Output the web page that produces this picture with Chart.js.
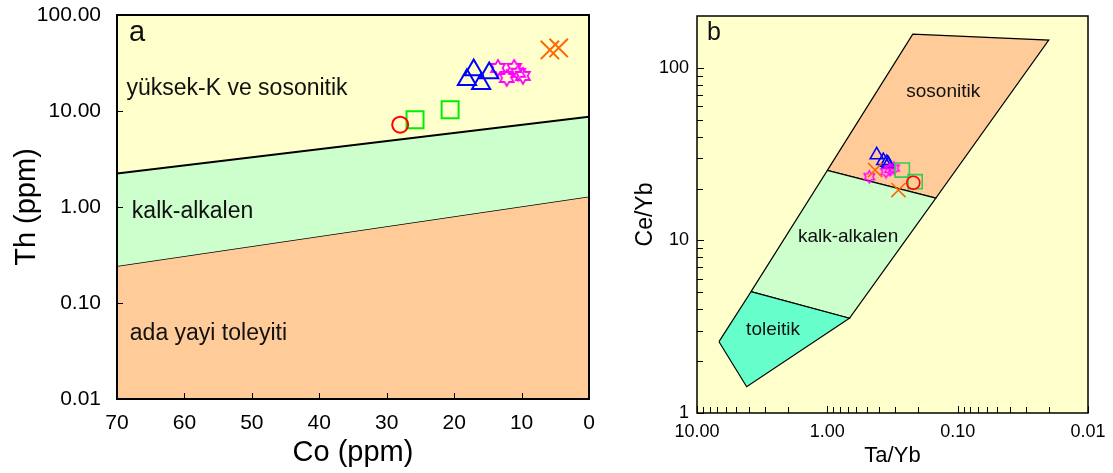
<!DOCTYPE html>
<html>
<head>
<meta charset="utf-8">
<script src="https://cdn.jsdelivr.net/npm/chart.js@4.4.1/dist/chart.umd.min.js"></script>
<style>
  html, body { margin: 0; padding: 0; background: #fff; }
  body { width: 1113px; height: 473px; position: relative; overflow: hidden; }
  .panel { position: absolute; top: 0; height: 473px; }
  #boxA { left: 0; width: 612px; }
  #boxB { left: 620px; width: 493px; }
</style>
</head>
<body>
<div class="panel" id="boxA"><canvas id="chartA"></canvas></div>
<div class="panel" id="boxB"><canvas id="chartB"></canvas></div>
<script>
// --- panel a : Th vs Co ---
const coTicksA = [70, 60, 50, 40, 30, 20, 10, 0];
const thTicksA = [0.01, 0.1, 1, 10, 100];

// field boundaries (Co, Th at both ends)
const lineCoA = [70, 0];
const upperThA = [2.23, 8.7];
const lowerThA = [0.243, 1.29];

const circleCoA = [28.0];
const circleThA = [7.2];
const squareCoA = [25.8, 20.6];
const squareThA = [8.1, 10.3];
const triCoA = [17.1, 18.1, 14.8, 16.0];
const triThA = [26.8, 21.1, 24.9, 19.2];
const starCoA = [13.5, 12.2, 11.1, 10.5, 9.8];
const starThA = [28.1, 22.1, 28.1, 25.0, 23.2];
const crossCoA = [5.8, 4.5];
const crossThA = [43.3, 45.4];

const fieldNamesA = ['yüksek-K ve sosonitik', 'kalk-alkalen', 'ada yayi toleyiti'];
const fieldCoA = [68.6, 67.8, 68.1];
const fieldThA = [17.0, 0.90, 0.0485];

// --- panel b : Ce/Yb vs Ta/Yb ---
const taMajorB = [10, 1, 0.1, 0.01];
const ceMajorB = [1, 10, 100];

const shoTaB = [1.0, 0.221, 0.02, 0.147, 1.0];
const shoCeB = [25.5, 157, 145, 17.6, 25.5];
const calcTaB = [3.85, 1.0, 0.147, 0.677, 3.85];
const calcCeB = [5.05, 25.5, 17.6, 3.54, 5.05];
const tholTaB = [6.78, 3.85, 0.677, 4.16, 6.78];
const tholCeB = [2.59, 5.05, 3.54, 1.42, 2.59];

const triTaB = [0.418, 0.372, 0.350, 0.340];
const triCeB = [31.3, 29.0, 28.3, 27.7];
const starTaB = [0.476, 0.355, 0.331, 0.308];
const starCeB = [23.4, 25.0, 25.8, 26.3];
const crossTaB = [0.430, 0.285];
const crossCeB = [25.6, 19.6];
const squareTaB = [0.266, 0.212];
const squareCeB = [25.6, 21.9];
const circleTaB = [0.219];
const circleCeB = [21.6];

const fieldNamesB = ['sosonitik', 'kalk-alkalen', 'toleitik'];
const fieldTaB = [0.129, 0.693, 2.61];
const fieldCeB = [72.9, 10.5, 3.03];

const FONT = '"Liberation Sans", Arial, sans-serif';

function pts(xs, ys) {
  return xs.map((x, i) => ({ x: x, y: ys[i] }));
}

function isPow10(v) {
  const l = Math.log10(v);
  return Math.abs(l - Math.round(l)) < 1e-6;
}

// log ticks 1..9 per decade, used for the minor tick marks
function logTicks(min, max) {
  const out = [];
  for (let e = Math.floor(Math.log10(min)); e <= Math.ceil(Math.log10(max)); e++) {
    for (let m = 1; m < 10; m++) {
      const v = parseFloat((m * Math.pow(10, e)).toPrecision(6));
      if (v >= min - 1e-12 && v <= max + 1e-12) out.push(v);
    }
  }
  return out;
}

function starCanvas(r, color, lw) {
  const s = Math.ceil(2 * r + 2 * lw + 2);
  const c = document.createElement('canvas');
  c.width = s; c.height = s;
  const g = c.getContext('2d');
  g.strokeStyle = color;
  g.lineWidth = lw;
  g.lineJoin = 'miter';
  g.beginPath();
  for (let i = 0; i < 12; i++) {
    const rr = i % 2 ? r / Math.sqrt(3) : r;
    const ang = -Math.PI / 2 + i * Math.PI / 6;
    const px = s / 2 + rr * Math.cos(ang);
    const py = s / 2 + rr * Math.sin(ang);
    if (i) g.lineTo(px, py); else g.moveTo(px, py);
  }
  g.closePath();
  g.stroke();
  return c;
}

function markers(xs, ys, style, color, radius, width) {
  return {
    data: pts(xs, ys),
    showLine: false,
    pointStyle: style,
    pointRadius: radius,
    pointHoverRadius: radius,
    pointBorderColor: color,
    pointBackgroundColor: 'rgba(0,0,0,0)',
    pointBorderWidth: width,
    clip: false,
    order: 0
  };
}

// fixed axis box size, no extra label padding pushed into the layout
function fixBox(size) {
  return s => {
    if (s.isHorizontal()) s.height = size; else s.width = size;
    s.paddingTop = 0; s.paddingBottom = 0; s.paddingLeft = 0; s.paddingRight = 0;
  };
}

/* --- plugins --- */
const plotBackground = {
  id: 'plotBackground',
  beforeDraw(chart, args, opts) {
    const { ctx, chartArea: a } = chart;
    ctx.save();
    ctx.fillStyle = opts.color;
    ctx.fillRect(a.left, a.top, a.right - a.left, a.bottom - a.top);
    ctx.restore();
  }
};

const frameTicks = {
  id: 'frameTicks',
  afterDatasetsDraw(chart, args, opts) {
    const { ctx, chartArea: a } = chart;
    ctx.save();
    ctx.strokeStyle = '#000';
    ctx.lineWidth = 1;
    Object.values(chart.scales).forEach(scale => {
      scale.ticks.forEach(t => {
        const major = scale.type === 'linear' || isPow10(t.value);
        const len = major ? opts.major : opts.minor;
        const p = Math.round(scale.getPixelForValue(t.value)) + 0.5;
        ctx.beginPath();
        if (scale.isHorizontal()) {
          ctx.moveTo(p, a.bottom);
          ctx.lineTo(p, a.bottom - len);
        } else {
          ctx.moveTo(a.left, p);
          ctx.lineTo(a.left + len, p);
        }
        ctx.stroke();
      });
    });
    ctx.lineWidth = opts.frame;
    ctx.strokeRect(a.left, a.top, a.right - a.left, a.bottom - a.top);
    ctx.restore();
  }
};

const fieldText = {
  id: 'fieldText',
  afterDatasetsDraw(chart, args, opts) {
    const { ctx, chartArea: a } = chart;
    const xs = chart.scales.x, ys = chart.scales.y;
    ctx.save();
    ctx.fillStyle = '#111';
    ctx.textBaseline = 'middle';
    ctx.font = opts.size + 'px ' + FONT;
    ctx.textAlign = opts.align;
    opts.names.forEach((n, i) => {
      ctx.fillText(n, xs.getPixelForValue(opts.xs[i]), ys.getPixelForValue(opts.ys[i]));
    });
    ctx.textAlign = 'left';
    ctx.font = opts.letterSize + 'px ' + FONT;
    ctx.fillText(opts.letter, a.left + opts.letterDx, a.top + opts.letterDy);
    ctx.restore();
  }
};

Chart.register(plotBackground, frameTicks, fieldText);
Chart.defaults.font.family = FONT;
Chart.defaults.color = '#000';

/* --- chart a --- */
function initChartA() {
  const datasets = [
    {
      data: pts(lineCoA, upperThA),
      borderColor: '#000', borderWidth: 2, pointRadius: 0,
      fill: '+1', backgroundColor: '#CCFFCC', order: 10
    },
    {
      data: pts(lineCoA, lowerThA),
      borderColor: '#000', borderWidth: 1.5, pointRadius: 0,
      fill: 'start', backgroundColor: '#FFCC99', order: 11
    },
    markers(circleCoA, circleThA, 'circle', '#FF0000', 8, 2),
    markers(squareCoA, squareThA, 'rect', '#00EE00', 12, 2),
    markers(triCoA, triThA, 'triangle', '#0000FF', 10.5, 2),
    markers(starCoA, starThA, starCanvas(8, '#FF00FF', 1.8), '#FF00FF', 8, 2),
    markers(crossCoA, crossThA, 'crossRot', '#FF6600', 13, 2)
  ];

  new Chart(document.getElementById('chartA'), {
    type: 'line',
    data: { datasets },
    options: {
      responsive: true,
      maintainAspectRatio: false,
      animation: false,
      events: [],
      layout: { padding: { top: 14, right: 23, left: 0, bottom: 0 } },
      plugins: {
        legend: { display: false },
        tooltip: { enabled: false },
        plotBackground: { color: '#FFFFCC' },
        frameTicks: { major: 6, minor: 6, frame: 2 },
        fieldText: {
          names: fieldNamesA, xs: fieldCoA, ys: fieldThA, size: 23, align: 'left',
          letter: 'a', letterSize: 29, letterDx: 12, letterDy: 18
        }
      },
      scales: {
        x: {
          type: 'linear', min: 0, max: 70, reverse: true,
          grid: { display: false, drawTicks: false }, border: { display: false },
          afterBuildTicks: s => { s.ticks = coTicksA.map(v => ({ value: v })); },
          afterFit: fixBox(74),
          ticks: { autoSkip: false, maxRotation: 0, padding: 12, font: { size: 21 } },
          title: { display: true, text: 'Co (ppm)', font: { size: 29 }, padding: { top: 0, bottom: 3 } }
        },
        y: {
          type: 'logarithmic', min: 0.01, max: 100,
          grid: { display: false, drawTicks: false }, border: { display: false },
          afterBuildTicks: s => { s.ticks = thTicksA.map(v => ({ value: v })); },
          afterFit: fixBox(117),
          ticks: { autoSkip: false, padding: 16, font: { size: 21 }, callback: v => Number(v).toFixed(2) },
          title: { display: true, text: 'Th (ppm)', font: { size: 29 }, padding: { top: 10, bottom: 0 } }
        }
      }
    }
  });
}

/* --- chart b --- */
function initChartB() {
  const poly = (xs, ys, fillColor, order) => ({
    data: pts(xs, ys),
    borderColor: '#000', borderWidth: 1.2, pointRadius: 0,
    fill: 'shape', backgroundColor: fillColor, order: order, tension: 0
  });

  const datasets = [
    poly(shoTaB, shoCeB, '#FFCC99', 12),
    poly(calcTaB, calcCeB, '#CCFFCC', 11),
    poly(tholTaB, tholCeB, '#66FFCC', 10),
    markers(circleTaB, circleCeB, 'circle', '#FF0000', 6.5, 1.6),
    markers(squareTaB, squareCeB, 'rect', '#33CC55', 10, 1.6),
    markers(crossTaB, crossCeB, 'crossRot', '#FF6600', 10, 1.6),
    markers(starTaB, starCeB, starCanvas(6, '#FF00FF', 1.5), '#FF00FF', 6, 1.5),
    markers(triTaB, triCeB, 'triangle', '#0000FF', 7.5, 1.6)
  ];

  const taTicks = logTicks(0.01, 10);
  const ceTicks = logTicks(1, 100);

  new Chart(document.getElementById('chartB'), {
    type: 'line',
    data: { datasets },
    options: {
      responsive: true,
      maintainAspectRatio: false,
      animation: false,
      events: [],
      layout: { padding: { top: 16, right: 25, left: 0, bottom: 0 } },
      plugins: {
        legend: { display: false },
        tooltip: { enabled: false },
        plotBackground: { color: '#FFFFCC' },
        frameTicks: { major: 7, minor: 6, frame: 1.5 },
        fieldText: {
          names: fieldNamesB, xs: fieldTaB, ys: fieldCeB, size: 19, align: 'center',
          letter: 'b', letterSize: 25, letterDx: 10, letterDy: 17
        }
      },
      scales: {
        x: {
          type: 'logarithmic', min: 0.01, max: 10, reverse: true,
          grid: { display: false, drawTicks: false }, border: { display: false },
          afterBuildTicks: s => { s.ticks = taTicks.map(v => ({ value: v })); },
          afterFit: fixBox(60),
          ticks: {
            autoSkip: false, maxRotation: 0, padding: 8, font: { size: 18 },
            callback: v => (taMajorB.some(m => Math.abs(m - v) < 1e-9) ? Number(v).toFixed(2) : '')
          },
          title: { display: true, text: 'Ta/Yb', font: { size: 22 }, padding: { top: 0, bottom: 4 } }
        },
        y: {
          type: 'logarithmic', min: 1, max: 200,
          grid: { display: false, drawTicks: false }, border: { display: false },
          afterBuildTicks: s => { s.ticks = ceTicks.map(v => ({ value: v })); },
          afterFit: fixBox(77),
          ticks: {
            autoSkip: false, padding: 8, font: { size: 18 },
            callback: v => (ceMajorB.some(m => Math.abs(m - v) < 1e-9) ? String(v) : '')
          },
          title: { display: true, text: 'Ce/Yb', font: { size: 23 }, padding: { top: 12, bottom: 0 } }
        }
      }
    }
  });
}

document.addEventListener('DOMContentLoaded', () => {
  initChartA();
  initChartB();
});
</script>
</body>
</html>
